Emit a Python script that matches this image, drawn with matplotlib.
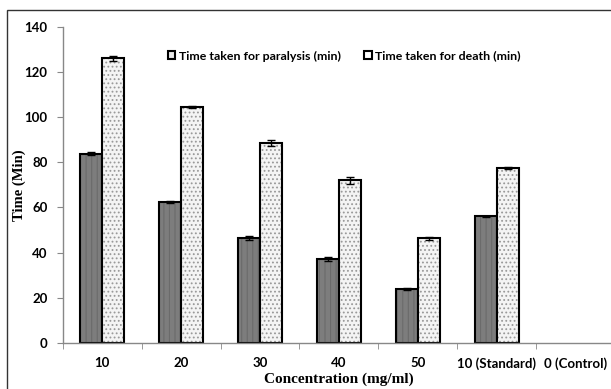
import matplotlib.pyplot as plt
import matplotlib.patches as mpatches
import numpy as np

categories = ['10', '20', '30', '40', '50', '10 (Standard)', '0 (Control)']
paralysis = [83.8, 62.5, 46.5, 37.2, 24.0, 56.0, 0]
paralysis_err = [0.8, 0.5, 1.0, 1.0, 0.5, 0.4, 0]
death = [126.0, 104.5, 88.5, 72.0, 46.3, 77.4, 0]
death_err = [1.0, 0.4, 1.5, 1.6, 0.6, 0.3, 0]

plt.rcParams['hatch.linewidth'] = 0.8

fig = plt.figure(figsize=(6.11, 3.89), dpi=100)
ax = fig.add_axes([0.1026, 0.1183, 0.904, 0.813])

# border round the chart area
fig.patches.append(mpatches.Rectangle((7 / 611, -0.05), 1.1, 1 - 10 / 389 + 0.05,
                                      transform=fig.transFigure, fill=False,
                                      edgecolor='#333333', lw=1.0, zorder=0))

x = np.arange(len(categories))
w = 0.28
ekw = dict(ecolor='black', elinewidth=1.0, capsize=3, capthick=1.0)

# zero-height bars (control) are not drawn at all
def masked(v):
    return np.where(np.array(v) == 0, np.nan, v)

b1 = ax.bar(x - w / 2, masked(paralysis), w, color='#7d7d7d', edgecolor='black', lw=1.5,
            hatch='|||', yerr=masked(paralysis_err), error_kw=ekw)
b2 = ax.bar(x + w / 2, masked(death), w, color='#f4f4f4', edgecolor='black', lw=1.5,
            hatch='....', yerr=masked(death_err), error_kw=ekw)
for p in b1:
    p._hatch_color = (0.42, 0.42, 0.42, 1)
for p in b2:
    p._hatch_color = (0.6, 0.6, 0.6, 1)

ax.set_xlim(-0.5, 6.5)
ax.set_ylim(0, 140)
ax.set_yticks(range(0, 141, 20))
ax.set_xticks(x)
ax.set_xticklabels(categories)
ax.set_xticks(np.arange(-0.5, 6.6, 1), minor=True)
ax.tick_params(axis='x', which='major', length=0, pad=10)
ax.tick_params(axis='x', which='minor', length=4, color='#888888', direction='out')
ax.tick_params(axis='y', length=4, color='#888888', direction='out', pad=7)

for lab in ax.get_xticklabels() + ax.get_yticklabels():
    lab.set_fontfamily('Lato')
    lab.set_fontweight('bold')
    lab.set_fontsize(9.5)

for s in ['top', 'right']:
    ax.spines[s].set_visible(False)
for s in ['left', 'bottom']:
    ax.spines[s].set_color('#888888')
    ax.spines[s].set_linewidth(1.0)

ax.set_ylabel('Time (Min)', fontfamily='Liberation Serif', fontweight='bold', fontsize=10.5)
ax.set_xlabel('Concentration (mg/ml)', fontfamily='Liberation Serif',
              fontweight='bold', fontsize=11)
ax.yaxis.set_label_coords(-0.066, 0.5)
ax.xaxis.set_label_coords(0.5, -0.094)

h1 = mpatches.Patch(facecolor='#e8e8e8', edgecolor='black', lw=1.5)
h2 = mpatches.Patch(facecolor='white', edgecolor='black', lw=1.5)
leg = ax.legend([h1, h2], ['Time taken for paralysis (min)', 'Time taken for death (min)'],
                loc='center left', bbox_to_anchor=(0.17, 0.907), ncol=2, frameon=False,
                handlelength=0.6, handleheight=0.6, handletextpad=0.3, columnspacing=1.9,
                prop={'family': 'Lato', 'weight': 'bold', 'size': 8.9})

fig.savefig('out.png', dpi=100)
